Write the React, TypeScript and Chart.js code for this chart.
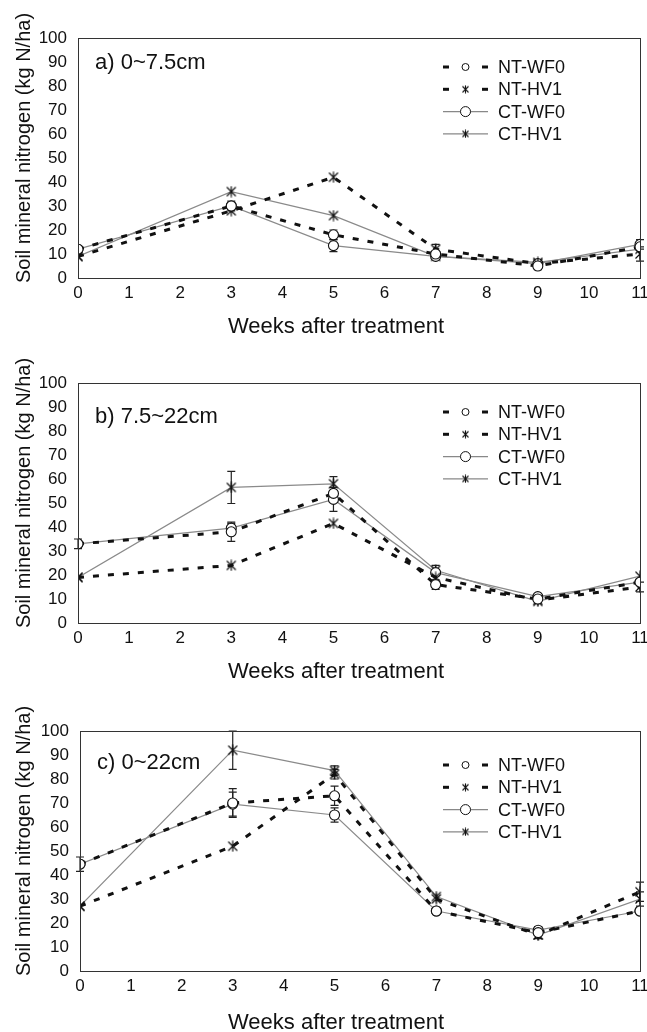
import React, { useEffect, useRef } from 'react';
import { Chart, registerables } from 'chart.js';

Chart.register(...registerables);

// ---------- data ----------
const weeks = [0, 3, 5, 7, 9, 11];
const seriesNames = ['NT-WF0', 'NT-HV1', 'CT-WF0', 'CT-HV1'];
const panelLabels = ['a) 0~7.5cm', 'b) 7.5~22cm', 'c) 0~22cm'];
const xTitle = 'Weeks after treatment';
const yTitle = 'Soil mineral nitrogen (kg N/ha)';

// panel a) 0~7.5cm
const aNTWF0 = [12, 30, 18, 10, 5, 13];
const aNTHV1 = [9, 28, 42, 12, 6, 10];
const aCTWF0 = [12, 30, 13.5, 9, 6, 14];
const aCTHV1 = [9, 36, 26, 9, 6.5, 12];
const aNTWF0Err = [0, 0, 2, 0, 1.5, 0];
const aNTHV1Err = [0, 0, 0, 2, 0, 3];
const aCTWF0Err = [0, 2, 2.5, 0, 0, 2];
const aCTHV1Err = [0, 0, 0, 0, 0, 0];

// panel b) 7.5~22cm
const bNTWF0 = [33, 38, 54, 16, 10, 17];
const bNTHV1 = [19, 24, 41.5, 19, 9.5, 15];
const bCTWF0 = [33, 39.5, 51.5, 21, 11, 17];
const bCTHV1 = [19, 56.5, 58, 22, 9, 19.5];
const bNTWF0Err = [0, 4, 0, 2, 0, 0];
const bNTHV1Err = [0, 0, 0, 2, 0, 2];
const bCTWF0Err = [2, 2, 5, 0, 1, 0];
const bCTHV1Err = [0, 6.7, 3, 2, 0, 0];

// panel c) 0~22cm
const cNTWF0 = [44.5, 70, 73, 25, 16, 25];
const cNTHV1 = [27, 52, 82, 30, 15, 33];
const cCTWF0 = [44.5, 69.5, 65, 25, 17, 25];
const cCTHV1 = [27, 92, 83.5, 31, 15, 30];
const cNTWF0Err = [0, 6, 4, 0, 0, 0];
const cNTHV1Err = [0, 0, 2, 0, 0, 4];
const cCTWF0Err = [3, 5, 3, 0, 1.5, 0];
const cCTHV1Err = [0, 8, 2, 0, 1.5, 3];

const panelValues = [
  [aNTWF0, aNTHV1, aCTWF0, aCTHV1],
  [bNTWF0, bNTHV1, bCTWF0, bCTHV1],
  [cNTWF0, cNTHV1, cCTWF0, cCTHV1],
];
const panelErrors = [
  [aNTWF0Err, aNTHV1Err, aCTWF0Err, aCTHV1Err],
  [bNTWF0Err, bNTHV1Err, bCTWF0Err, bCTHV1Err],
  [cNTWF0Err, cNTHV1Err, cCTWF0Err, cCTHV1Err],
];

// ---------- layout ----------
const FONT = '"Liberation Sans", Arial, Helvetica, sans-serif';
const W = 647;
const panelTop = [0, 345, 693];
const panelHeight = [345, 348, 339];
const plotLeft = [78, 78, 80];
const legendTop = [29, 29, 34];
const labelTop = [25, 34, 32];
const xTitleTop = [289, 289, 292];

function makeStar(size: number, lw: number) {
  const c = document.createElement('canvas');
  c.width = size;
  c.height = size;
  const g = c.getContext('2d')!;
  g.strokeStyle = '#111';
  g.lineWidth = lw;
  const m = 1.5;
  g.beginPath();
  g.moveTo(m, m);
  g.lineTo(size - m, size - m);
  g.moveTo(size - m, m);
  g.lineTo(m, size - m);
  g.moveTo(size / 2, 0.5);
  g.lineTo(size / 2, size - 0.5);
  g.stroke();
  return c;
}

const decorPlugin = {
  id: 'decor',
  beforeDatasetsDraw(chart: any) {
    const ctx = chart.ctx;
    const ys = chart.scales.y;
    chart.data.datasets.forEach((ds: any, i: number) => {
      const meta = chart.getDatasetMeta(i);
      (ds.errors || []).forEach((e: number, j: number) => {
        if (!e) return;
        const pt = meta.data[j];
        const v = ds.data[j].y;
        const x = pt.x;
        const y1 = ys.getPixelForValue(v + e);
        const y2 = ys.getPixelForValue(v - e);
        ctx.save();
        ctx.strokeStyle = '#222';
        ctx.lineWidth = 1.2;
        ctx.setLineDash([]);
        ctx.beginPath();
        ctx.moveTo(x, y1);
        ctx.lineTo(x, y2);
        ctx.moveTo(x - 4, y1);
        ctx.lineTo(x + 4, y1);
        ctx.moveTo(x - 4, y2);
        ctx.lineTo(x + 4, y2);
        ctx.stroke();
        ctx.restore();
      });
    });
  },
  afterDraw(chart: any, _args: any, opts: any) {
    const ctx = chart.ctx;
    const a = chart.chartArea;
    ctx.save();
    // frame
    ctx.strokeStyle = '#333';
    ctx.lineWidth = 1;
    ctx.setLineDash([]);
    ctx.strokeRect(Math.round(a.left) + 0.5, Math.round(a.top) + 0.5, Math.round(a.right - a.left), Math.round(a.bottom - a.top));
    // panel label
    ctx.fillStyle = '#111';
    ctx.font = `22px ${FONT}`;
    ctx.textBaseline = 'middle';
    ctx.textAlign = 'left';
    ctx.fillText(opts.label, a.left + 17, a.top + opts.labelTop);
    // titles
    ctx.textAlign = 'center';
    ctx.font = `22px ${FONT}`;
    ctx.fillText(xTitle, 336, a.top + opts.xTitleTop);
    ctx.save();
    ctx.translate(24, a.top + 110);
    ctx.rotate(-Math.PI / 2);
    ctx.font = `20px ${FONT}`;
    ctx.fillText(yTitle, 0, 0);
    ctx.restore();
    // legend
    const x0 = 443, x1 = 488, xm = 465.5;
    chart.data.datasets.forEach((ds: any, i: number) => {
      const y = a.top + opts.legendTop + i * 22.3;
      if (ds.borderDash && ds.borderDash.length) {
        ctx.fillStyle = '#111';
        ctx.fillRect(x0, y - 1.5, 6, 3);
        ctx.fillRect(x1 - 6, y - 1.5, 6, 3);
        if (ds.pointStyle === 'circle') {
          ctx.beginPath();
          ctx.arc(xm, y, 3.5, 0, Math.PI * 2);
          ctx.fillStyle = '#fff';
          ctx.fill();
          ctx.strokeStyle = '#111';
          ctx.lineWidth = 1;
          ctx.stroke();
        } else {
          ctx.drawImage(ds.legendStar, xm - 4.5, y - 4.5);
        }
      } else {
        ctx.strokeStyle = '#888';
        ctx.lineWidth = 1.2;
        ctx.beginPath();
        ctx.moveTo(x0, y);
        ctx.lineTo(x1, y);
        ctx.stroke();
        if (ds.pointStyle === 'circle') {
          ctx.beginPath();
          ctx.arc(xm, y, 5, 0, Math.PI * 2);
          ctx.fillStyle = '#fff';
          ctx.fill();
          ctx.strokeStyle = '#111';
          ctx.lineWidth = 1;
          ctx.stroke();
        } else {
          ctx.drawImage(ds.legendStar, xm - 4.5, y - 4.5);
        }
      }
      ctx.fillStyle = '#111';
      ctx.font = `18px ${FONT}`;
      ctx.textAlign = 'left';
      ctx.textBaseline = 'middle';
      ctx.fillText(seriesNames[i], 498, y + 1);
    });
    ctx.restore();
  },
};

function Panel({ idx }: { idx: number }) {
  const ref = useRef<HTMLCanvasElement>(null);
  useEffect(() => {
    const star = makeStar(12, 1.2);
    const smallStar = makeStar(9, 1.1);
    const vals = panelValues[idx];
    const errs = panelErrors[idx];
    const datasets = seriesNames.map((name, i) => {
      const nt = i < 2;
      const circ = i % 2 === 0;
      return {
        label: name,
        data: weeks.map((w, j) => ({ x: w, y: vals[i][j] })),
        errors: errs[i],
        borderColor: nt ? '#111' : '#8a8a8a',
        borderWidth: nt ? 3 : 1.2,
        borderDash: nt ? [6, 9] : [],
        pointStyle: circ ? 'circle' : star,
        legendStar: smallStar,
        pointRadius: 5,
        pointBackgroundColor: '#fff',
        pointBorderColor: '#111',
        pointBorderWidth: 1.1,
        tension: 0,
        fill: false,
      };
    });
    const h = panelHeight[idx];
    const chart = new Chart(ref.current!, {
      type: 'line',
      data: { datasets: datasets as any },
      plugins: [decorPlugin as any],
      options: {
        responsive: false,
        animation: false,
        events: [],
        layout: { padding: { top: 38, right: 7, left: 0, bottom: 0 } },
        plugins: {
          legend: { display: false },
          tooltip: { enabled: false },
          decor: { label: panelLabels[idx], legendTop: legendTop[idx], labelTop: labelTop[idx], xTitleTop: xTitleTop[idx] },
        } as any,
        scales: {
          x: {
            type: 'linear',
            min: 0,
            max: 11,
            grid: { display: false, drawTicks: false },
            border: { display: false },
            ticks: { stepSize: 1, padding: 5, color: '#111', font: { size: 17, family: FONT }, maxRotation: 0 },
            afterFit: (s: any) => {
              s.height = h - 38 - 240;
              s.paddingLeft = 0;
              s.paddingRight = 0;
            },
          },
          y: {
            min: 0,
            max: 100,
            grid: { display: false, drawTicks: false },
            border: { display: false },
            ticks: { stepSize: 10, padding: 11, color: '#111', font: { size: 17, family: FONT } },
            afterFit: (s: any) => {
              s.width = plotLeft[idx];
            },
          },
        },
      } as any,
    });
    return () => chart.destroy();
  }, [idx]);
  return (
    <canvas
      ref={ref}
      width={W}
      height={panelHeight[idx]}
      style={{ position: 'absolute', left: 0, top: panelTop[idx], width: W, height: panelHeight[idx] }}
    />
  );
}

export default function App() {
  return (
    <div style={{ position: 'absolute', left: 0, top: 0, width: W, height: 1032, background: '#fff' }}>
      <Panel idx={0} />
      <Panel idx={1} />
      <Panel idx={2} />
    </div>
  );
}
